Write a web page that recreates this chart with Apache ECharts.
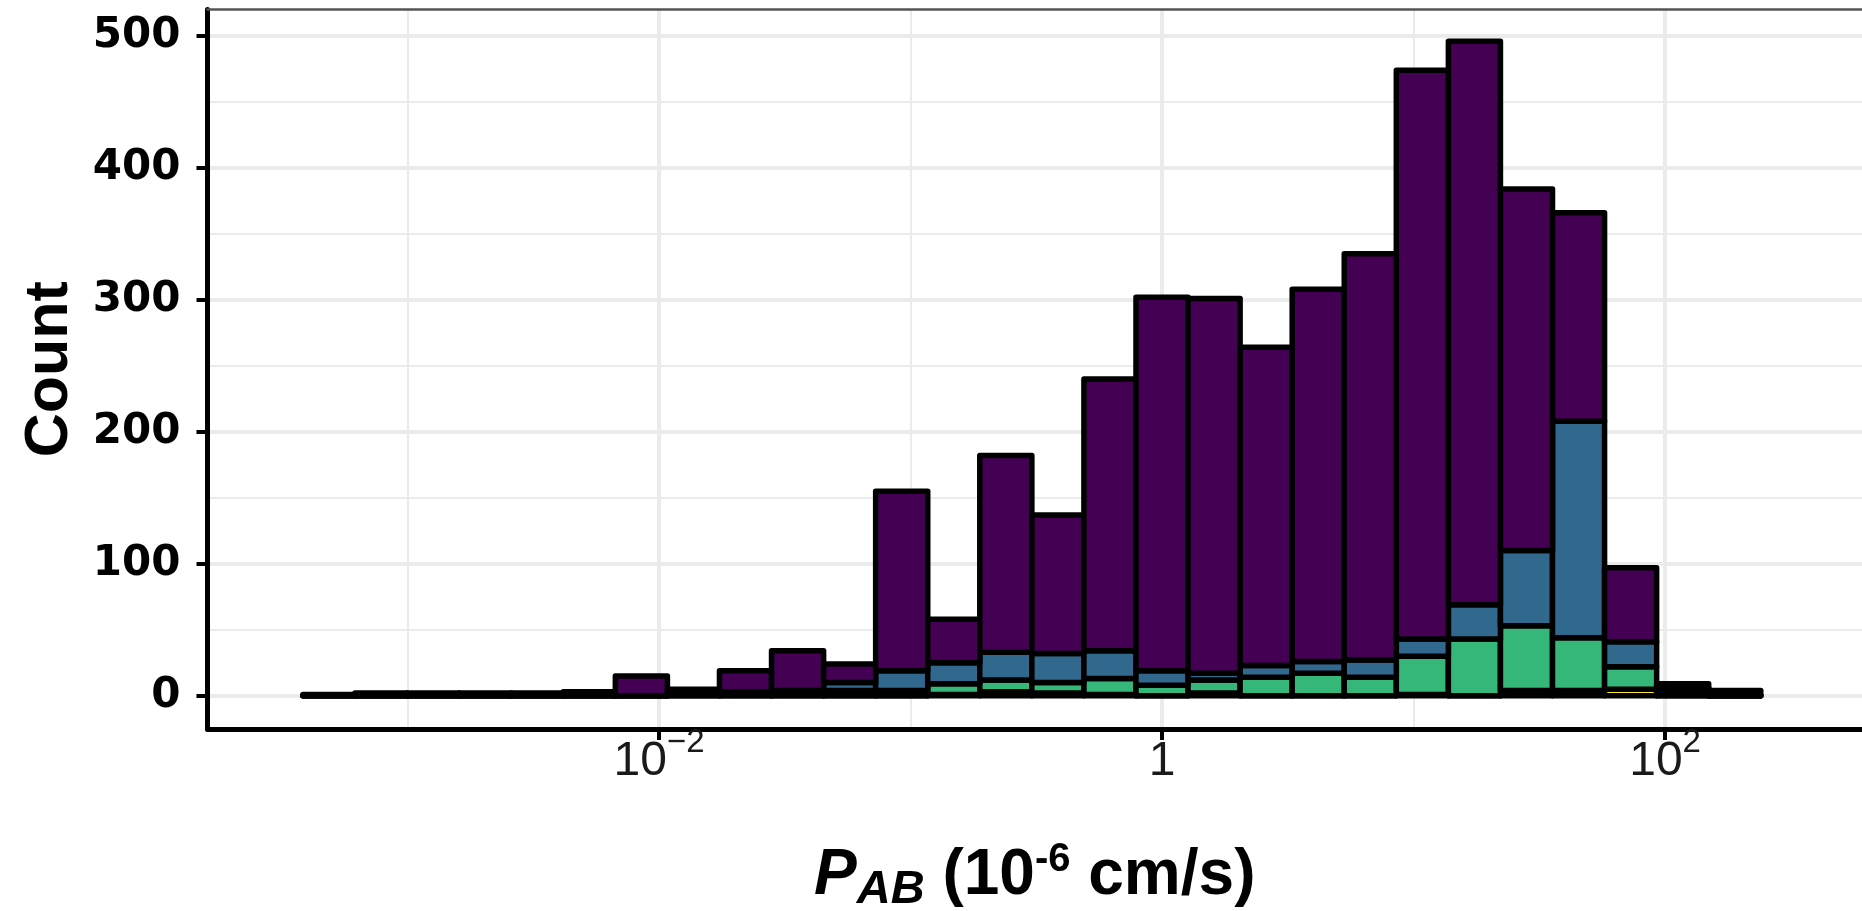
<!DOCTYPE html>
<html>
<head>
<meta charset="utf-8">
<script src="https://cdn.jsdelivr.net/npm/echarts@6/dist/echarts.min.js"></script>
<style>
html,body{margin:0;padding:0;background:#fff;}
#chart{width:1862px;height:911px;}
</style>
</head>
<body>
<div id="chart"></div>
<script>
// Histogram bins: centers in log10(P_AB) units, bin width in log10 units
const binCenters = [-3.312,-3.105,-2.898,-2.691,-2.484,-2.277,-2.070,-1.863,-1.656,-1.449,-1.242,-1.035,-0.828,-0.621,-0.414,-0.207,0,0.207,0.414,0.621,0.828,1.035,1.242,1.449,1.656,1.863,2.070,2.277];
const binWidth = 0.207;
// Stacked counts per group (bottom to top: yellow, green, blue, purple)
const countsPurple = [1,2,2,2,2,3,15,3,16,30,14,136,33,149,105,206,283,284,241,282,308,431,427,274,158,56,3,4];
const countsBlue   = [0,0,0,0,0,0,0,1,2,2,6,15,16,21,22,21,11,5,9,9,13,13,26,57,164,19,3,0];
const countsGreen  = [0,0,0,0,0,0,0,1,1,2,4,4,8,9,8,12,8,10,14,17,14,29,43,49,40,17,3,0];
const countsYellow = [0,0,0,0,0,0,0,0,0,0,0,0,1,3,2,1,0,2,0,0,0,1,0,4,4,5,0,0];
const groupColors = ['#FDE725','#35B779','#31688E','#440154'];
// Axis ticks
const xMajorTicks = [-2,0,2];
const xMinorTicks = [-3,-1,1];
const yMajorTicks = [0,100,200,300,400,500];
const yMinorTicks = [50,150,250,350,450];
const xRange = [-3.795, 2.783];
const yRange = [-25.2, 520];

const groups = [countsYellow, countsGreen, countsBlue, countsPurple];
const base = binCenters.map(() => 0);
const series = groups.map((arr, gi) => {
  const data = arr.map((v, i) => {
    const b = base[i];
    base[i] += v;
    return [binCenters[i], b, b + v];
  });
  const color = groupColors[gi];
  return {
    type: 'custom',
    xAxisIndex: 0, yAxisIndex: 0,
    data: data,
    clip: false,
    renderItem: function (params, api) {
      const c = api.value(0), y0 = api.value(1), y1 = api.value(2);
      const pA = api.coord([c - binWidth / 2, y1]);
      const pB = api.coord([c + binWidth / 2, y0]);
      return {
        type: 'rect',
        shape: { x: pA[0], y: pA[1], width: pB[0] - pA[0], height: pB[1] - pA[1] },
        style: { fill: color, stroke: '#000', lineWidth: 5.5, lineJoin: 'round' }
      };
    }
  };
});

function xLabel(v) {
  if (Math.abs(v) < 1e-9) return '{b|1}';
  return '{b|10}{s|' + (v < 0 ? '\u2212' : '') + Math.abs(v) + '}';
}

const chart = echarts.init(document.getElementById('chart'), null, { renderer: 'canvas' });
chart.setOption({
  backgroundColor: '#ffffff',
  animation: false,
  grid: { left: 207.5, right: 0, top: 9.5, bottom: 182, containLabel: false, outerBoundsMode: 'none' },
  xAxis: [
    {
      type: 'value', position: 'bottom', min: xRange[0], max: xRange[1],
      axisLine: { show: true, onZero: false, lineStyle: { color: '#000', width: 5 } },
      axisTick: { show: true, customValues: xMajorTicks, length: 11, lineStyle: { color: '#000', width: 4 } },
      axisLabel: {
        show: true, customValues: xMajorTicks, formatter: xLabel, margin: -3,
        rich: {
          b: { fontSize: 48, fontFamily: 'Liberation Sans', color: '#1a1a1a', lineHeight: 60, verticalAlign: 'bottom' },
          s: { fontSize: 33, fontFamily: 'Liberation Sans', color: '#1a1a1a', lineHeight: 33, verticalAlign: 'top' }
        }
      },
      splitLine: { show: true, lineStyle: { color: '#EBEBEB', width: 4 } },
      name: '{pi|P}{sub|AB}{b| (10}{sup|-6}{b| cm/s)}',
      nameLocation: 'middle', nameGap: 110,
      nameTextStyle: {
        rich: {
          pi: { fontSize: 64, fontWeight: 'bold', fontStyle: 'italic', fontFamily: 'Liberation Sans', color: '#000' },
          sub: { fontSize: 47, fontWeight: 'bold', fontStyle: 'italic', fontFamily: 'Liberation Sans', color: '#000', padding: [28, 0, 0, 0] },
          b: { fontSize: 64, fontWeight: 'bold', fontFamily: 'Liberation Sans', color: '#000' },
          sup: { fontSize: 40, fontWeight: 'bold', fontFamily: 'Liberation Sans', color: '#000', padding: [0, 0, 34, 0] }
        }
      }
    },
    {
      type: 'value', position: 'top', min: xRange[0], max: xRange[1],
      axisLine: { show: true, onZero: false, lineStyle: { color: '#555555', width: 2.5 } },
      axisTick: { show: false, customValues: xMinorTicks },
      axisLabel: { show: false, customValues: xMinorTicks },
      splitLine: { show: true, lineStyle: { color: '#EBEBEB', width: 2 } }
    }
  ],
  yAxis: [
    {
      type: 'value', position: 'left', min: yRange[0], max: yRange[1],
      axisLine: { show: true, onZero: false, lineStyle: { color: '#000', width: 5 } },
      axisTick: { show: true, customValues: yMajorTicks, length: 11, lineStyle: { color: '#000', width: 4 } },
      axisLabel: { show: true, customValues: yMajorTicks, margin: 27, fontSize: 42, fontWeight: 'bold', fontFamily: 'DejaVu Sans', color: '#000' },
      splitLine: { show: true, lineStyle: { color: '#EBEBEB', width: 4 } },
      name: 'Count', nameLocation: 'middle', nameGap: 127, nameRotate: 90,
      nameTextStyle: { fontSize: 61, fontWeight: 'bold', fontFamily: 'Liberation Sans', color: '#000' }
    },
    {
      type: 'value', position: 'right', min: yRange[0], max: yRange[1],
      axisLine: { show: false },
      axisTick: { show: false, customValues: yMinorTicks },
      axisLabel: { show: false, customValues: yMinorTicks },
      splitLine: { show: true, lineStyle: { color: '#EBEBEB', width: 2 } }
    }
  ],
  series: series
});
</script>
</body>
</html>
